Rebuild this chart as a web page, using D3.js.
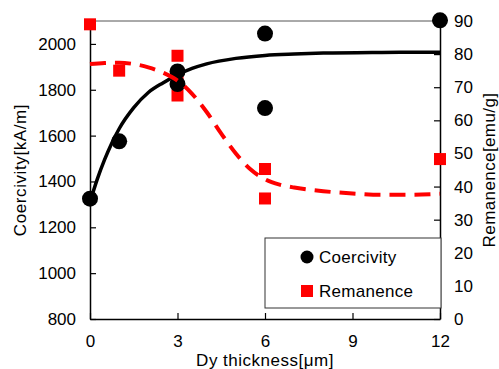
<!DOCTYPE html>
<html>
<head>
<meta charset="utf-8">
<script src="https://cdn.jsdelivr.net/npm/d3@7"></script>
<style>
  body { margin: 0; background: #fff; }
  svg text { font-family: "Liberation Sans", Arial, sans-serif; fill: #000; }
</style>
</head>
<body>
<div id="chart"></div>
<script>
// measured points
const coerX = [0, 1, 3, 3, 6, 6, 12];
const coerY = [1325, 1575, 1880, 1825, 2045, 1720, 2103];
const remX = [0, 1, 3, 3, 3, 6, 6, 12];
const remY = [89, 75, 79.5, 72, 67.5, 45.3, 36.4, 48.3];

// fitted curves
const coerFitX = [0, 0.25, 0.5, 0.75, 1, 1.5, 2, 2.5, 3, 3.5, 4, 5, 6, 7, 8, 10, 12];
const coerFitY = [1310, 1410, 1495, 1568, 1630, 1722, 1788, 1830, 1865, 1893, 1913, 1937, 1950, 1956, 1960, 1963, 1964];
const remFitX = [0, 0.5, 1, 1.5, 2, 2.5, 3, 3.5, 4, 4.5, 5, 5.5, 6, 6.5, 7, 7.5, 8, 9, 10, 11, 12];
const remFitY = [77, 77.3, 77.4, 77, 76, 74.4, 72, 68, 62.5, 56, 50, 45.2, 42.2, 40.6, 39.7, 39.1, 38.6, 37.9, 37.5, 37.5, 37.8];

const xTicks = [0, 3, 6, 9, 12];
const leftTicks = [800, 1000, 1200, 1400, 1600, 1800, 2000];
const rightTicks = [0, 10, 20, 30, 40, 50, 60, 70, 80, 90];

const width = 499, height = 369;
const margin = { left: 90, right: 59, top: 21, bottom: 50 };
const fs = "17px";

const svg = d3.select("#chart").append("svg")
    .attr("width", width).attr("height", height);

const x = d3.scaleLinear().domain([0, 12]).range([margin.left, width - margin.right]);
const yL = d3.scaleLinear().domain([800, 2100]).range([height - margin.bottom, margin.top]);
const yR = d3.scaleLinear().domain([0, 90]).range([height - margin.bottom, margin.top]);

// top frame line
svg.append("line")
    .attr("x1", x(0)).attr("x2", x(12))
    .attr("y1", yL(2100)).attr("y2", yL(2100))
    .attr("stroke", "#555").attr("stroke-width", 1);

const bottom = svg.append("g")
    .attr("transform", `translate(0,${yL(800)})`)
    .call(d3.axisBottom(x).tickValues(xTicks).tickSizeInner(-6).tickSizeOuter(0).tickPadding(16));
const left = svg.append("g")
    .attr("transform", `translate(${x(0)},0)`)
    .call(d3.axisLeft(yL).tickValues(leftTicks).tickFormat(d3.format("d"))
        .tickSizeInner(-6).tickSizeOuter(0).tickPadding(14));
const right = svg.append("g")
    .attr("transform", `translate(${x(12)},0)`)
    .call(d3.axisRight(yR).tickValues(rightTicks).tickSizeInner(-6).tickSizeOuter(0).tickPadding(14));

[bottom, left, right].forEach(a => {
    a.select(".domain").attr("stroke", "#000").attr("stroke-width", 1.5);
    a.selectAll(".tick line").attr("stroke", "#000").attr("stroke-width", 1.2);
    a.selectAll("text").style("font-size", fs).attr("fill", "#000");
});

// markers
svg.append("g").selectAll("rect")
    .data(remX.map((d, i) => [d, remY[i]]))
    .enter().append("rect")
    .attr("x", d => x(d[0]) - 6).attr("y", d => yR(d[1]) - 6)
    .attr("width", 12).attr("height", 12)
    .attr("fill", "#ff0000");

svg.append("g").selectAll("circle")
    .data(coerX.map((d, i) => [d, coerY[i]]))
    .enter().append("circle")
    .attr("cx", d => x(d[0])).attr("cy", d => yL(d[1]))
    .attr("r", 8).attr("fill", "#000");

const coerLine = d3.line().x(d => x(d[0])).y(d => yL(d[1])).curve(d3.curveMonotoneX);
const remLine = d3.line().x(d => x(d[0])).y(d => yR(d[1])).curve(d3.curveMonotoneX);

svg.append("path")
    .datum(coerFitX.map((d, i) => [d, coerFitY[i]]))
    .attr("d", coerLine)
    .attr("fill", "none").attr("stroke", "#000").attr("stroke-width", 3.5);

svg.append("path")
    .datum(remFitX.map((d, i) => [d, remFitY[i]]))
    .attr("d", remLine)
    .attr("fill", "none").attr("stroke", "#ff0000").attr("stroke-width", 4)
    .attr("stroke-dasharray", "16,9");

// axis titles
svg.append("text")
    .attr("transform", `translate(26,${(yL(800) + yL(2100)) / 2}) rotate(-90)`)
    .attr("text-anchor", "middle").style("font-size", fs).style("letter-spacing", "0.6px")
    .text("Coercivity[kA/m]");
svg.append("text")
    .attr("transform", `translate(495,${(yR(0) + yR(90)) / 2}) rotate(-90)`)
    .attr("text-anchor", "middle").style("font-size", fs).style("letter-spacing", "0.4px")
    .text("Remanence[emu/g]");
svg.append("text")
    .attr("x", (x(0) + x(12)) / 2).attr("y", 366)
    .attr("text-anchor", "middle").style("font-size", fs).style("letter-spacing", "0.5px")
    .text("Dy thickness[μm]");

// legend
const legend = svg.append("g");
legend.append("rect")
    .attr("x", 265).attr("y", 238).attr("width", 176).attr("height", 70)
    .attr("fill", "#fff").attr("stroke", "#333").attr("stroke-width", 1);
legend.append("circle").attr("cx", 307).attr("cy", 257).attr("r", 6.5).attr("fill", "#000");
legend.append("rect").attr("x", 301).attr("y", 285).attr("width", 12).attr("height", 12).attr("fill", "#ff0000");
legend.append("text").attr("x", 319).attr("y", 263).style("font-size", fs).style("letter-spacing", "0.3px").text("Coercivity");
legend.append("text").attr("x", 319).attr("y", 297).style("font-size", fs).style("letter-spacing", "0.3px").text("Remanence");
</script>
</body>
</html>
